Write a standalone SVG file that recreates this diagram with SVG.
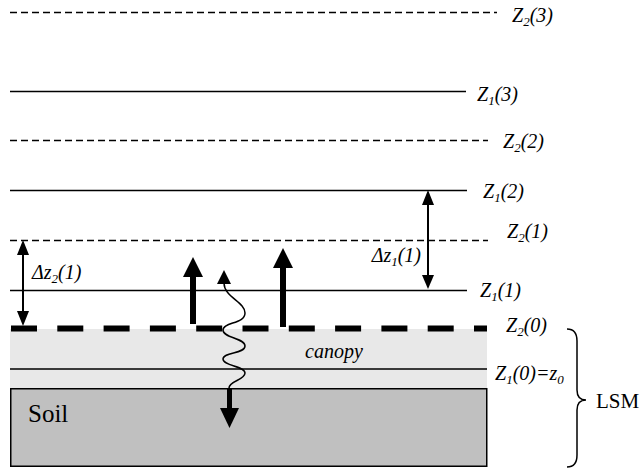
<svg xmlns="http://www.w3.org/2000/svg" width="642" height="470" viewBox="0 0 642 470">
<style>
.lbl{font-family:"Liberation Serif","Times New Roman",Tinos,"DejaVu Serif",serif;font-style:italic;font-size:20px;fill:#000}
.rm{font-family:"Liberation Serif","Times New Roman",Tinos,"DejaVu Serif",serif;fill:#000}
.sub{font-size:13px}
.solid{stroke:#000;stroke-width:1.5;fill:none}
.dash{stroke:#000;stroke-width:1.3;stroke-dasharray:7 4;fill:none}
.ar{fill:#000;stroke:none}
</style>
<rect width="642" height="470" fill="#fff"/>
<g id="canopy">
<rect x="10" y="329" width="477" height="59" fill="#e8e8e8"/>
<text class="lbl" x="305" y="358">canopy</text>
</g>
<g id="soil">
<rect x="10.75" y="388.75" width="476" height="77.5" fill="#c0c0c0" stroke="#000" stroke-width="1.5"/>
<text class="rm" x="28" y="422" font-size="25">Soil</text>
</g>
<g id="z2-3">
<line class="dash" x1="10" y1="12.5" x2="497" y2="12.5"/>
<text class="lbl" x="512" y="22">Z<tspan class="sub" dy="4">2</tspan><tspan dy="-4">(3)</tspan></text>
</g>
<g id="z1-3">
<line class="solid" x1="10" y1="91.5" x2="466" y2="91.5"/>
<text class="lbl" x="477" y="101">Z<tspan class="sub" dy="4">1</tspan><tspan dy="-4">(3)</tspan></text>
</g>
<g id="z2-2">
<line class="dash" x1="10" y1="140.5" x2="488" y2="140.5"/>
<text class="lbl" x="503" y="148">Z<tspan class="sub" dy="4">2</tspan><tspan dy="-4">(2)</tspan></text>
</g>
<g id="z1-2">
<line class="solid" x1="10" y1="190.5" x2="467" y2="190.5"/>
<text class="lbl" x="483" y="198">Z<tspan class="sub" dy="4">1</tspan><tspan dy="-4">(2)</tspan></text>
</g>
<g id="z2-1">
<line class="dash" x1="10" y1="240.5" x2="488" y2="240.5"/>
<text class="lbl" x="507" y="238">Z<tspan class="sub" dy="4">2</tspan><tspan dy="-4">(1)</tspan></text>
</g>
<g id="z1-1">
<line class="solid" x1="10" y1="290.5" x2="467" y2="290.5"/>
<text class="lbl" x="480" y="297">Z<tspan class="sub" dy="4">1</tspan><tspan dy="-4">(1)</tspan></text>
</g>
<g id="z2-0">
<line x1="11" y1="328.5" x2="487" y2="328.5" stroke="#000" stroke-width="6" stroke-dasharray="26 20.3"/>
<text class="lbl" x="506" y="332">Z<tspan class="sub" dy="4">2</tspan><tspan dy="-4">(0)</tspan></text>
</g>
<g id="z1-0">
<line x1="10" y1="369" x2="487" y2="369" stroke="#000" stroke-width="1.3"/>
<text class="lbl" x="495" y="380">Z<tspan class="sub" dy="4">1</tspan><tspan dy="-4">(0)=z</tspan><tspan class="sub" dy="4">0</tspan></text>
</g>
<g id="lsm">
<path d="M567,329 Q577,329 577,341 L577,390 Q577,400 586,400 Q577,400 577,410 L577,455 Q577,467 567,467" fill="none" stroke="#000" stroke-width="1.5"/>
<text class="rm" x="596" y="408" font-size="21">LSM</text>
</g>
<g id="connectors">
<line x1="23" y1="253" x2="23" y2="313" stroke="#000" stroke-width="2"/>
<polygon class="ar" points="17,255 29,255 23,240"/>
<polygon class="ar" points="17,311 29,311 23,326"/>
<text class="lbl" x="32" y="279">Δz<tspan class="sub" dy="4">2</tspan><tspan dy="-4">(1)</tspan></text>
<line x1="428" y1="203" x2="428" y2="277" stroke="#000" stroke-width="2"/>
<polygon class="ar" points="422,205 434,205 428,190"/>
<polygon class="ar" points="422,275 434,275 428,289"/>
<text class="lbl" x="421" y="262" text-anchor="end">Δz<tspan class="sub" dy="4">1</tspan><tspan dy="-4">(1)</tspan></text>
<line x1="193" y1="324" x2="193" y2="275" stroke="#000" stroke-width="6"/>
<polygon class="ar" points="183,277 203,277 193,257"/>
<line x1="283" y1="327" x2="283" y2="266" stroke="#000" stroke-width="6"/>
<polygon class="ar" points="273,268 293,268 283,248"/>
<path d="M224,283 C224,297 245,302 245,313 S223,322 223,330 S245,338 245,346 S223,352 223,359 S245,366 245,373 S229,381 229,388" fill="none" stroke="#000" stroke-width="1.5"/>
<polygon class="ar" points="217,284 231,284 224,270"/>
<line x1="229.5" y1="388" x2="229.5" y2="410" stroke="#000" stroke-width="5"/>
<polygon class="ar" points="220,408 239,408 229.5,428"/>
</g>
</svg>
